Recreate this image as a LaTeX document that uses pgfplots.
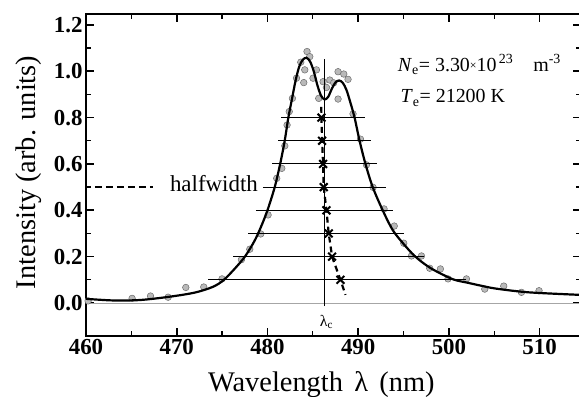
\documentclass[border=0pt]{standalone}
\usepackage{pgfplots}
\pgfplotsset{compat=1.18}
\usepackage{fontspec}
\setmainfont{Liberation Serif}
\begin{document}
\begin{tikzpicture}
\begin{axis}[
  at={(86bp,61bp)}, anchor=south west,
  scale only axis, width=494.5bp, height=322bp,
  xmin=460, xmax=514.5, ymin=-0.1424, ymax=1.247,
  xtick={460,470,480,490,500,510},
  ytick={0,0.2,0.4,0.6,0.8,1.0,1.2},
  minor x tick num=1, minor y tick num=1,
  tick align=inside,
  major tick length=8bp, minor tick length=5bp,
  axis line style={line width=2bp},
  major tick style={black, line width=1.6bp},
  minor tick style={black, line width=1.3bp},
  ticklabel style={font=\fontsize{23}{23}\selectfont\bfseries},
  /pgf/number format/assume math mode=true,
  yticklabel style={/pgf/number format/.cd, fixed, fixed zerofill, precision=1},
  xticklabel style={/pgf/number format/.cd, fixed, 1000 sep={}},
  xlabel={Wavelength\hspace{0.4em}λ\hspace{0.4em}(nm)},
  ylabel={Intensity (arb. units)},
  label style={font=\fontsize{28.5}{28.5}\selectfont},
  xlabel style={at={(axis description cs:0.476,-0.1739)}, anchor=base},
  ylabel style={at={(axis description cs:-0.1031,0.508)}, anchor=base},
  clip mode=individual,
]
% zero line
\addplot[gray!70, line width=0.8bp] coordinates {(460,0) (514.5,0)};
% data points
\addplot[only marks, mark=*, mark size=3.3bp,
  mark options={fill=gray!55, draw=gray!85!black, line width=0.5bp}] coordinates {
(460.23,0.009) (465.08,0.020) (467.11,0.030) (469.05,0.025) (471.0,0.067)
(472.98,0.069) (474.99,0.104) (477.13,0.187) (478.05,0.232) (479.26,0.298)
(480.07,0.380) (481.02,0.538) (481.58,0.581) (481.91,0.678) (482.16,0.768)
(482.4,0.826) (482.75,0.883) (483.2,0.97) (483.67,1.039) (484.36,1.085)
(484.66,1.063) (484.11,1.006) (484.0,0.951) (485.02,0.970) (485.4,1.006)
(486.13,0.955) (485.65,0.883) (486.87,0.962) (487.78,0.998) (488.41,0.988)
(488.88,0.965) (487.78,0.88) (486.5,0.93) (487.3,0.95)
(489.43,0.816) (490.25,0.707) (490.91,0.596) (491.64,0.499) (492.85,0.406)
(493.97,0.332) (495.02,0.258) (495.87,0.203) (496.97,0.203) (497.88,0.150)
(499.06,0.147) (499.9,0.104) (501.93,0.104) (503.95,0.060) (506.04,0.073)
(507.99,0.046) (509.93,0.053)
};
% halfwidth lines
\addplot[black, line width=0.9bp] coordinates {(481.54,0.8) (490.8,0.8)};
\addplot[black, line width=0.9bp] coordinates {(481.17,0.7) (491.44,0.7)};
\addplot[black, line width=0.9bp] coordinates {(480.53,0.6) (492.1,0.6)};
\addplot[black, line width=0.9bp] coordinates {(479.5,0.5) (493.11,0.5)};
\addplot[black, line width=0.9bp] coordinates {(478.71,0.4) (493.84,0.4)};
\addplot[black, line width=0.9bp] coordinates {(477.86,0.3) (495.02,0.3)};
\addplot[black, line width=0.9bp] coordinates {(476.21,0.2) (497.28,0.2)};
\addplot[black, line width=0.9bp] coordinates {(473.45,0.1) (501.85,0.1)};
% lambda_c line
\addplot[black, line width=0.9bp] coordinates {(486.24,-0.013) (486.24,1.052)};
% fitted profile
\addplot[black, line width=2.2bp, smooth, tension=0.5] coordinates {
(460,0.018) (463,0.011) (466,0.013) (469.2,0.027) (472,0.045) (474,0.07)
(475.2,0.1) (476.6,0.157) (477.6,0.205) (478.6,0.27) (479.3,0.33) (480.0,0.4)
(480.8,0.5) (481.4,0.6) (481.9,0.7) (482.3,0.8) (482.7,0.88) (483.1,0.96)
(483.5,1.02) (483.9,1.05) (484.3,1.058) (484.7,1.042) (485.1,1.0) (485.5,0.94)
(485.9,0.895) (486.3,0.878) (486.7,0.89) (487.1,0.925) (487.5,0.952) (487.9,0.96)
(488.3,0.95) (488.7,0.92) (489.1,0.87) (489.6,0.8) (490.15,0.7) (490.8,0.6)
(491.6,0.5) (492.7,0.4) (493.8,0.315) (495,0.255) (496.3,0.2) (498,0.15)
(500.4,0.103) (502,0.088) (503.5,0.075) (505.2,0.062) (508.8,0.046) (514.5,0.035)
};
% centre line of halfwidths
\addplot[black, line width=2.2bp, dash pattern=on 6bp off 4bp] coordinates {
(485.93,0.846) (485.95,0.8) (486.02,0.7) (486.13,0.6) (486.2,0.5) (486.5,0.4)
(486.75,0.3) (487.12,0.2) (488.04,0.1) (488.6,0.035)};
\addplot[only marks, mark=x, mark size=5.5bp, mark options={line width=2bp, solid}] coordinates {
(485.95,0.8) (486.02,0.7) (486.13,0.6) (486.2,0.5) (486.5,0.4)
(486.75,0.3) (487.12,0.2) (488.04,0.1)};
% halfwidth legend
\addplot[black, line width=2bp, dash pattern=on 7bp off 4bp] coordinates {(460.97,0.5) (467.36,0.5)};
\node[anchor=base east, inner sep=0pt, font=\fontsize{23}{23}\selectfont] at (axis cs:478.96,0.48) {halfwidth};
\node[anchor=base, inner sep=0pt, font=\fontsize{16}{16}\selectfont] at (axis cs:486.5,-0.1) {λ\textsubscript{c}};
\node[anchor=base west, inner sep=0pt, font=\fontsize{20}{20}\selectfont] at (axis cs:494.36,1.0)
  {\textit{N}\textsubscript{e}= 3.30\raisebox{0.15ex}{\fontsize{12}{12}\selectfont ×}10\textsuperscript{\,23}\quad m\textsuperscript{-3}};
\node[anchor=base west, inner sep=0pt, font=\fontsize{20}{20}\selectfont] at (axis cs:494.66,0.863)
  {\textit{T}\textsubscript{e}= 21200 K};
\end{axis}
\pgfresetboundingbox
\useasboundingbox (0,0) rectangle (579bp,397bp);
\end{tikzpicture}
\end{document}
